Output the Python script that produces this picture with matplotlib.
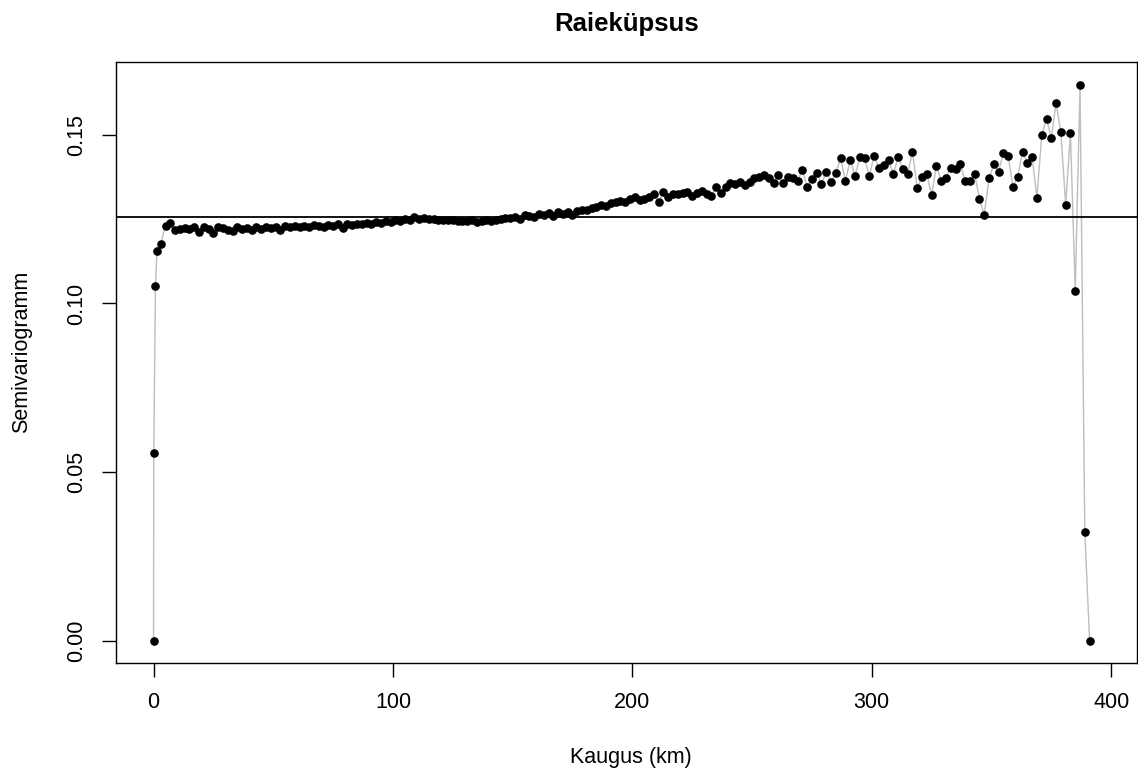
import matplotlib
matplotlib.use("Agg")
import matplotlib.pyplot as plt

plt.rcParams['font.family'] = ['Liberation Sans', 'DejaVu Sans']

# lag distances (km)
dist_start = [0, 0.1, 0.8, 1.4, 3]
dist_rest = [
    5, 7, 9, 11, 13, 15, 17, 19, 21, 23, 25, 27, 29, 31, 33, 35, 37, 39, 41, 43,
    45, 47, 49, 51, 53, 55, 57, 59, 61, 63, 65, 67, 69, 71, 73, 75, 77, 79, 81, 83,
    85, 87, 89, 91, 93, 95, 97, 99, 101, 103, 105, 107, 109, 111, 113, 115, 117, 119, 121, 123,
    125, 127, 129, 131, 133, 135, 137, 139, 141, 143, 145, 147, 149, 151, 153, 155, 157, 159, 161, 163,
    165, 167, 169, 171, 173, 175, 177, 179, 181, 183, 185, 187, 189, 191, 193, 195, 197, 199, 201, 203,
    205, 207, 209, 211, 213, 215, 217, 219, 221, 223, 225, 227, 229, 231, 233, 235, 237, 239, 241, 243,
    245, 247, 249, 251, 253, 255, 257, 259, 261, 263, 265, 267, 269, 271, 273, 275, 277, 279, 281, 283,
    285, 287, 289, 291, 293, 295, 297, 299, 301, 303, 305, 307, 309, 311, 313, 315, 317, 319, 321, 323,
    325, 327, 329, 331, 333, 335, 337, 339, 341, 343, 345, 347, 349, 351, 353, 355, 357, 359, 361, 363,
    365, 367, 369, 371, 373, 375, 377, 379, 381, 383, 385, 387, 389, 391,
]
dist = dist_start + dist_rest

# semivariogram values
gamma = [
    0.0, 0.0557, 0.1051, 0.1155, 0.1177,
    # 5 .. 49
    0.1231, 0.1238, 0.1218, 0.1222, 0.1225, 0.1222, 0.1228, 0.1211, 0.1226, 0.1222,
    0.1209, 0.1228, 0.1224, 0.1218, 0.1214, 0.1228, 0.1222, 0.1225, 0.1219, 0.1226,
    0.1222, 0.1227, 0.1224,
    # 51 .. 101
    0.1228, 0.1218, 0.1229, 0.1226, 0.1231, 0.1227, 0.1230, 0.1228, 0.1232, 0.1229,
    0.1227, 0.1232, 0.1230, 0.1235, 0.1224, 0.1236, 0.1233, 0.1236, 0.1235, 0.1239,
    0.1237, 0.1241, 0.1240, 0.1244, 0.1242, 0.1248,
    # 103 .. 153
    0.1246, 0.1250, 0.1248, 0.1256, 0.1250, 0.1252, 0.1251, 0.1250, 0.1248, 0.1249,
    0.1247, 0.1248, 0.1245, 0.1246, 0.1244, 0.1247, 0.1243, 0.1246, 0.1248, 0.1245,
    0.1249, 0.1251, 0.1253, 0.1252, 0.1255, 0.1250,
    # 155 .. 201
    0.1262, 0.1258, 0.1257, 0.1266, 0.1262, 0.1268, 0.1260, 0.1270, 0.1264, 0.1272,
    0.1262, 0.1275, 0.1278, 0.1276, 0.1283, 0.1287, 0.1292, 0.1290, 0.1297, 0.1300,
    0.1304, 0.1302, 0.1310, 0.1316,
    # 203 .. 301
    0.1307, 0.1310, 0.1317, 0.1326, 0.1300, 0.1332, 0.1317, 0.1325, 0.1326, 0.1329,
    0.1332, 0.1320, 0.1327, 0.1334, 0.1326, 0.1319, 0.1344, 0.1329, 0.1346, 0.1356,
    0.1354, 0.1359, 0.1351, 0.1359, 0.1372, 0.1376, 0.1382, 0.1372, 0.1357, 0.1382,
    0.1358, 0.1376, 0.1372, 0.1362, 0.1397, 0.1346, 0.1369, 0.1388, 0.1354, 0.1391,
    0.1359, 0.1387, 0.1431, 0.1364, 0.1425, 0.1378, 0.1433, 0.1431, 0.1378, 0.1438,
    # 303 .. 391
    0.1402, 0.1412, 0.1424, 0.1384, 0.1433, 0.1400, 0.1383, 0.1450, 0.1342, 0.1376,
    0.1384, 0.1321, 0.1408, 0.1363, 0.1371, 0.1403, 0.1398, 0.1413, 0.1363, 0.1363,
    0.1383, 0.1310, 0.1263, 0.1371, 0.1413, 0.1391, 0.1447, 0.1437, 0.1346, 0.1376,
    0.1450, 0.1416, 0.1433, 0.1313, 0.1499, 0.1548, 0.1491, 0.1594, 0.1507, 0.1292,
    0.1504, 0.1038, 0.1648, 0.0322, 0.0,
]

sill = 0.1257

fig = plt.figure(figsize=(11.38, 7.69), dpi=100)
ax = fig.add_axes([116 / 1138, 106 / 769, 1021 / 1138, 601 / 769])

ax.plot(dist, gamma, color='#bebebe', lw=1.0, zorder=1)
ax.plot(dist, gamma, 'o', color='black', ms=5.2, zorder=2)
ax.axhline(sill, color='black', lw=1.3, zorder=3)

ax.set_xlim(-15.68, 410.8)
ax.set_ylim(-0.0066, 0.1716)
ax.set_xticks([0, 100, 200, 300, 400])
ax.set_yticks([0.0, 0.05, 0.10, 0.15])
ax.set_yticklabels(['0.00', '0.05', '0.10', '0.15'], rotation=90, va='center')
ax.tick_params(direction='out', length=10, width=1, labelsize=15.5, pad=11,
               colors='black')
for s in ax.spines.values():
    s.set_linewidth(1.0)

ax.set_title('Raieküpsus', fontsize=18.5, fontweight='bold', pad=22)
fig.text(631 / 1138, 1 - 757 / 769, 'Kaugus (km)', ha='center', va='center', fontsize=15.5)
fig.text(22 / 1138, 1 - 352 / 769, 'Semivariogramm', ha='center', va='center',
         rotation=90, fontsize=15.5)

fig.savefig('out.png', dpi=100)
